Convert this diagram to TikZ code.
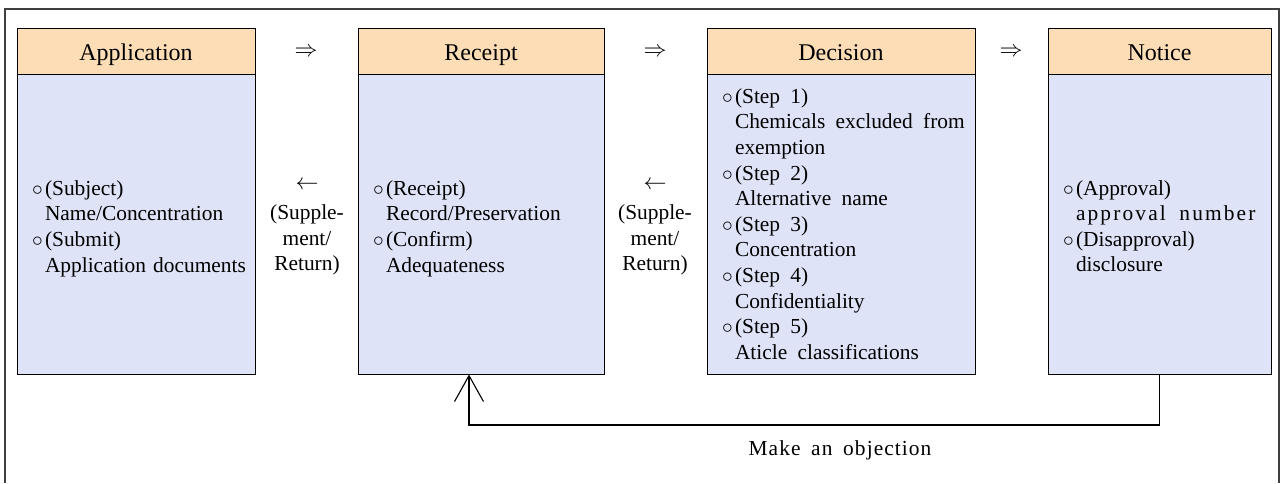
\RequirePackage{fix-cm}
\documentclass[tikz,border=0pt]{standalone}
\usepackage{fontspec}
\setmainfont{Liberation Serif}
\usetikzlibrary{arrows.meta,calc}
\definecolor{hdr}{RGB}{253,221,181}
\definecolor{bdy}{RGB}{222,227,247}
\definecolor{frm}{RGB}{64,64,64}
\newcommand\bul{\makebox[13pt][l]{$\circ$}}
\newcommand\ind{\hspace*{13pt}}
\newcommand\lift{\rule{0pt}{24pt}}
\begin{document}
\begin{tikzpicture}[x=1pt,y=-1pt,
  hdrbox/.style={draw=black, fill=hdr, line width=0.9pt, inner sep=0pt,
    minimum height=46pt, text height=20pt, text depth=2pt,
    font=\fontsize{24}{28}\selectfont},
  bodybox/.style={draw=black, fill=bdy, line width=0.9pt, inner sep=0pt,
    minimum height=300pt, align=left, font=\fontsize{21.4}{25.6}\selectfont},
  sym/.style={inner sep=0pt, font=\fontsize{21.4}{25.6}\selectfont},
  arr/.style={inner sep=0pt, font=\fontsize{23}{27}\selectfont},
  conn/.style={draw=black, line width=1.1pt}]
\useasboundingbox (0,0) rectangle (1283,483);
% outer frame
\draw[frm, line width=1.5pt] (5,483) -- (5,9) -- (1279,9) -- (1279,483);
% Application
\node[hdrbox, minimum width=238pt] (ah) at (136,51) {Application};
\node[bodybox, minimum width=238pt, text width=208pt] (ab) at (136,224)
  {\lift\bul(Subject)\\\ind Name/Concentration\\\bul(Submit)\\\ind\mbox{Application documents}};
% Receipt
\node[hdrbox, minimum width=246pt] (rh) at (481,51) {Receipt};
\node[bodybox, minimum width=246pt, text width=216pt] (rb) at (481,224)
  {\lift\bul(Receipt)\\\ind Record/Preservation\\\bul(Confirm)\\\ind Adequateness};
% Decision
\node[hdrbox, minimum width=268pt] (dh) at (841,51) {Decision};
\node[bodybox, minimum width=268pt, text width=238pt] (db) at (841,224)
  {\spaceskip=0.48em\relax
   \bul(Step 1)\\\ind\mbox{Chemicals excluded from}\\\ind exemption\\
   \bul(Step 2)\\\ind\mbox{Alternative name}\\
   \bul(Step 3)\\\ind Concentration\\
   \bul(Step 4)\\\ind Confidentiality\\
   \bul(Step 5)\\\ind\mbox{Aticle classifications}};
% Notice
\node[hdrbox, minimum width=223pt] (nh) at (1159.5,51) {Notice};
\node[bodybox, minimum width=223pt, text width=193pt] (nb) at (1159.5,224)
  {\rule{0pt}{19pt}\bul(Approval)\\\ind\mbox{\addfontfeature{LetterSpace=10}approval\hspace{0.3em} number}\\\bul(Disapproval)\\\ind disclosure};
% forward arrows
\node[arr] (f1) at (306,52) {$\Rightarrow$};
\node[arr] (f2) at (655,52) {$\Rightarrow$};
\node[arr] (f3) at (1011,52) {$\Rightarrow$};
% back arrows with labels
\node[sym, text width=90pt, align=center, anchor=base] (b1) at (307,189)
  {{\fontsize{23}{27}\selectfont$\leftarrow$}\\[5pt](Supple-\\ment/\\Return)};
\node[sym, text width=90pt, align=center, anchor=base] (b2) at (655,189)
  {{\fontsize{23}{27}\selectfont$\leftarrow$}\\[5pt](Supple-\\ment/\\Return)};
% objection feedback
\coordinate (fb) at ([xshift=-12pt]rb.south);
\draw[conn, -{Straight Barb[length=26pt,width=29pt]}]
  (nb.south) -- (nb.south |- 0,425) -- (fb |- 0,425) -- (fb);
\node[sym, anchor=base] (obj) at (840,455)
  {\spaceskip=0.5em\relax\addfontfeature{LetterSpace=5}Make an objection};
\end{tikzpicture}
\end{document}
